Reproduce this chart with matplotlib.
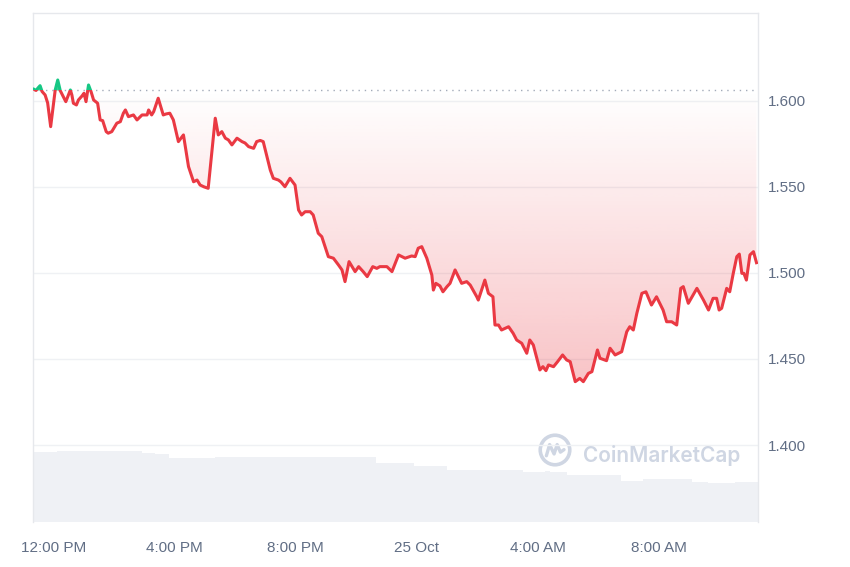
import numpy as np
import pandas as pd
import matplotlib
matplotlib.use("Agg")
import matplotlib.pyplot as plt
import matplotlib.dates as mdates
from matplotlib.ticker import FixedLocator, FuncFormatter
from matplotlib.patches import Rectangle, Circle

plt.rcParams["font.family"] = ["Liberation Sans", "DejaVu Sans"]

# 24h price, minutes counted from 12:00 PM on 24 Oct
START = pd.Timestamp("2023-10-24 12:00")
WINDOW = (pd.Timestamp("2023-10-24 11:20"), pd.Timestamp("2023-10-25 11:16"))

minutes = [
    -38, -34, -30, -26, -22, -16, -11, -5, 4, 9,
    14, 20, 25, 34, 37, 40, 46, 50, 57, 61,
    65, 70, 75, 80, 88, 93, 98, 105, 109, 116,
    126, 133, 139, 143, 149, 159, 166, 176, 186, 189,
    195, 199, 208, 218, 224, 231, 238, 248, 258, 268,
    278, 285, 291, 299, 307, 321, 327, 334, 341, 347,
    354, 364, 374, 380, 387, 397, 403, 410, 416, 430,
    436, 446, 451, 459, 469, 479, 486, 492, 499, 509,
    515, 525, 532, 545, 555, 565, 572, 578, 586, 598,
    605, 614, 622, 633, 641, 647, 661, 671, 684, 697,
    710, 717, 723, 730, 740, 750, 753, 758, 766, 772,
    780, 786, 796, 809, 819, 826, 839, 842, 855, 862,
    871, 875, 882, 888, 902, 911, 918, 928, 938, 944,
    951, 964, 970, 976, 981, 991, 999, 1009, 1017, 1024,
    1034, 1043, 1050, 1060, 1067, 1078, 1083, 1096, 1103, 1113,
    1126, 1136, 1142, 1149, 1156, 1166, 1174, 1185, 1195, 1208,
    1215, 1225, 1235, 1243, 1248, 1258, 1275, 1288, 1298, 1307,
    1314, 1319, 1324, 1334, 1340, 1347, 1354, 1359, 1364, 1368,
    1373, 1380, 1387, 1393,
]

price = [
    1.6066, 1.6059, 1.6074, 1.6087, 1.6053, 1.6033, 1.5987, 1.5849, 1.6062, 1.6120,
    1.6058, 1.6023, 1.5994, 1.6062, 1.6033, 1.5985, 1.5975, 1.6004, 1.6027, 1.6043,
    1.5994, 1.6091, 1.6052, 1.6004, 1.5985, 1.5888, 1.5884, 1.5820, 1.5811, 1.5820,
    1.5869, 1.5878, 1.5927, 1.5946, 1.5907, 1.5917, 1.5888, 1.5917, 1.5917, 1.5946,
    1.5917, 1.5936, 1.6014, 1.5917, 1.5923, 1.5927, 1.5888, 1.5762, 1.5801, 1.5617,
    1.5529, 1.5539, 1.5510, 1.5499, 1.5491, 1.5898, 1.5801, 1.5820, 1.5782, 1.5772,
    1.5743, 1.5782, 1.5762, 1.5754, 1.5733, 1.5723, 1.5762, 1.5769, 1.5762, 1.5597,
    1.5549, 1.5539, 1.5528, 1.5500, 1.5549, 1.5510, 1.5365, 1.5336, 1.5355, 1.5355,
    1.5336, 1.5230, 1.5210, 1.5094, 1.5085, 1.5046, 1.5017, 1.4949, 1.5065, 1.5007,
    1.5036, 1.5007, 1.4978, 1.5036, 1.5026, 1.5036, 1.5036, 1.5007, 1.5104, 1.5085,
    1.5098, 1.5094, 1.5143, 1.5152, 1.5085, 1.4987, 1.4900, 1.4939, 1.4924, 1.4890,
    1.4920, 1.4939, 1.5017, 1.4939, 1.4949, 1.4929, 1.4861, 1.4842, 1.4958, 1.4881,
    1.4861, 1.4697, 1.4697, 1.4668, 1.4687, 1.4649, 1.4610, 1.4591, 1.4533, 1.4610,
    1.4581, 1.4436, 1.4455, 1.4432, 1.4465, 1.4455, 1.4484, 1.4523, 1.4494, 1.4484,
    1.4368, 1.4387, 1.4368, 1.4416, 1.4426, 1.4552, 1.4504, 1.4490, 1.4562, 1.4523,
    1.4542, 1.4658, 1.4687, 1.4668, 1.4765, 1.4881, 1.4890, 1.4813, 1.4861, 1.4784,
    1.4716, 1.4716, 1.4697, 1.4910, 1.4920, 1.4823, 1.4910, 1.4842, 1.4784, 1.4852,
    1.4852, 1.4784, 1.4794, 1.4910, 1.4890, 1.4997, 1.5094, 1.5109, 1.4997, 1.4997,
    1.4958, 1.5104, 1.5123, 1.5059,
]

OPEN_PRICE = 1.6062

# rolling volume (arbitrary units), step changes
vol_minutes = [-40, -26, 8, 143, 176, 202, 230, 321, 628, 640, 715, 780,
               931, 974, 984, 1018, 1125, 1168, 1265, 1297, 1350, 1396]
volume = [70, 70.5, 71.3, 71.3, 69, 68, 63.7, 65.3, 65.3, 58.7, 56, 52,
          50.3, 51, 50, 47, 41.3, 42.7, 40.3, 38.7, 39.7, 39.7]

y_ticks = [1.400, 1.450, 1.500, 1.550, 1.600]
x_tick_hours = [0, 4, 8, 12, 16, 20]

RED = "#ea3943"
GREEN = "#16c784"
LABEL = "#616e85"
GRID = "#eff1f4"


def to_num(mins):
    t = START + pd.to_timedelta(np.asarray(mins, dtype=float), unit="min")
    return mdates.date2num(t.to_pydatetime())


x = to_num(minutes)
p = np.array(price)
vx = to_num(vol_minutes)
xmin, xmax = mdates.date2num(WINDOW[0].to_pydatetime()), mdates.date2num(WINDOW[1].to_pydatetime())
ymin, ymax = 1.3553, 1.6509

fig = plt.figure(figsize=(8.5, 5.67), dpi=100)
ax = fig.add_axes([33 / 850, 45 / 567, 725 / 850, 509 / 567])
ax_vol = ax.twinx()
ax.set_zorder(ax_vol.get_zorder() + 1)
ax.patch.set_visible(False)

# volume area at the bottom
ax_vol.fill_between(vx, volume, step="post", color="#eff1f5", lw=0)
ax_vol.set_ylim(0, 509)
ax_vol.set_yticks([])
for s in ax_vol.spines.values():
    s.set_visible(False)

# red gradient area between baseline and price
below = np.minimum(p, OPEN_PRICE)
poly = ax.fill_between(x, below, OPEN_PRICE, facecolor="none", edgecolor="none")
grad = np.zeros((256, 1, 4))
grad[:, 0, :3] = matplotlib.colors.to_rgb(RED)
grad[:, 0, 3] = np.linspace(0.30, 0.0, 256)
im = ax.imshow(grad, extent=[xmin, xmax, p.min(), OPEN_PRICE], origin="lower",
               aspect="auto", interpolation="bilinear", zorder=1)
im.set_clip_path(poly.get_paths()[0], transform=ax.transData)

# green area above baseline
above = np.maximum(p, OPEN_PRICE)
ax.fill_between(x, OPEN_PRICE, above, color=GREEN, alpha=0.85, lw=0, zorder=2)

# price line, red below the open price and green above it
red_line, = ax.plot(x, p, color=RED, lw=2.2, zorder=3, solid_joinstyle="round")
red_line.set_clip_path(Rectangle((xmin, ymin), xmax - xmin, OPEN_PRICE - ymin,
                                 transform=ax.transData))
green_line, = ax.plot(x, p, color=GREEN, lw=2.2, zorder=3, solid_joinstyle="round")
green_line.set_clip_path(Rectangle((xmin, OPEN_PRICE), xmax - xmin, ymax - OPEN_PRICE,
                                   transform=ax.transData))

ax.axhline(OPEN_PRICE, color="#a3abb9", lw=1.0, linestyle=(0, (1, 3.5)), zorder=2)

ax.set_xlim(xmin, xmax)
ax.set_ylim(ymin, ymax)

ax.set_yticks(y_ticks)
ax.yaxis.tick_right()
ax.yaxis.set_major_formatter(FuncFormatter(lambda v, pos: f"{v:.3f}"))
ax.grid(axis="y", color=GRID, lw=1.0, zorder=0)
ax.set_axisbelow(True)


def fmt_time(v, pos):
    dt = mdates.num2date(v)
    if dt.hour == 0:
        return f"{dt.day} {dt:%b}"
    return f"{dt.hour % 12 or 12}:{dt:%M} {dt:%p}"


ax.xaxis.set_major_locator(FixedLocator(to_num([h * 60 for h in x_tick_hours])))
ax.xaxis.set_major_formatter(FuncFormatter(fmt_time))
ax.tick_params(axis="both", length=0, labelsize=11, labelcolor=LABEL)
ax.tick_params(axis="x", pad=14)
ax.tick_params(axis="y", pad=7)

for side in ["left", "top", "right"]:
    ax.spines[side].set_color("#e6e8ec")
    ax.spines[side].set_linewidth(1.0)
ax.spines["bottom"].set_visible(False)

# watermark
logo = fig.add_axes([(555 - 18) / 850, 1 - (450 + 18) / 567, 36 / 850, 36 / 567])
logo.set_xlim(-1, 1)
logo.set_ylim(-1, 1)
logo.axis("off")
logo.add_patch(Circle((0, 0), 0.82, fill=False, ec="#cfd6e3", lw=2.6))
logo.plot([-0.48, -0.3, -0.05, 0.12, 0.3, 0.5], [-0.32, 0.3, -0.22, 0.3, -0.12, 0.02],
          color="#cfd6e3", lw=2.4, solid_capstyle="round", solid_joinstyle="round")
fig.text(583 / 850, 1 - 456 / 567, "CoinMarketCap", fontsize=15, fontweight="semibold",
         family=["Inter", "DejaVu Sans"], color="#cfd6e3", ha="left", va="center")

fig.savefig("out.png", dpi=100)
